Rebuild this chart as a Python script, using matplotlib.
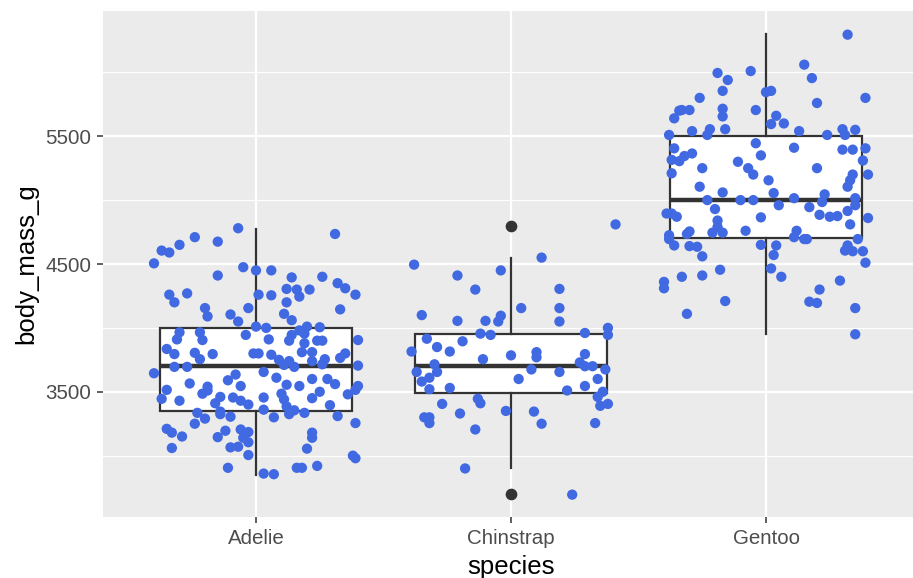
import matplotlib
matplotlib.use("Agg")
import matplotlib.pyplot as plt

# species on the x axis
species = ["Adelie", "Chinstrap", "Gentoo"]

# boxplot summary per species (g)
box_q1 = [3350, 3487.5, 4700]
box_med = [3700, 3700, 5000]
box_q3 = [4000, 3950, 5500]
box_lo = [2850, 2900, 3950]
box_hi = [4775, 4550, 6300]
box_fliers = [[], [4800, 2700], []]

# jittered points: horizontal offset (category units) and body mass (g)
adelie_off = [
    -0.07, 0.31, -0.24, -0.30, -0.15, -0.37, -0.34, -0.40, -0.05, 0.00, 0.06, -0.15, 0.14, 0.26,
    0.32, 0.35, 0.12, 0.16, 0.21, 0.17, -0.34, -0.27, -0.32, 0.01, 0.06, 0.39, 0.12, -0.20, -0.19,
    -0.03, -0.10, -0.07, 0.33, 0.11, 0.14, 0.00, 0.04, 0.17, 0.20, 0.25, -0.30, -0.31, -0.22, -0.21,
    -0.04, 0.05, 0.14, 0.13, 0.19, 0.19, 0.24, 0.26, 0.40,
    -0.35, -0.32, -0.24, -0.22, -0.17, -0.01, 0.01, 0.06, 0.09, 0.11, 0.13, 0.15, 0.18, 0.22, 0.22,
    0.26, 0.27, 0.33, 0.35, 0.40, -0.40, -0.32, -0.27, -0.35, -0.37, -0.30, -0.26, -0.21, -0.19,
    -0.19, -0.14, -0.16, -0.11, -0.08, -0.06, -0.09, -0.06, -0.03, 0.03, 0.03, 0.03, 0.08, 0.12,
    0.10, 0.11, 0.12, 0.15, 0.13, 0.17, 0.22, 0.28, 0.31, 0.25, 0.22, 0.29, 0.36, 0.39, 0.40, 0.19,
    0.32, 0.39, -0.23, -0.20, -0.24, -0.14, -0.14, -0.10, 0.07, -0.35, -0.33, -0.29, -0.33, -0.15,
    -0.12, -0.06, -0.03, -0.03, -0.05, -0.10, -0.07, -0.03, 0.22, 0.22, 0.20, 0.38, 0.39, -0.11,
    0.03, 0.07, 0.16, 0.18, 0.24,
]
adelie_mass = [
    4780, 4735, 4710, 4650, 4675, 4605, 4590, 4505, 4475, 4450, 4450, 4410, 4395, 4400,
    4350, 4310, 4305, 4300, 4300, 4245, 4260, 4270, 4200, 4260, 4255, 4260, 4200, 4155, 4090,
    4155, 4105, 4050, 4145, 4110, 4060, 4010, 4000, 3980, 4010, 4005, 3965, 3910, 3965, 3905,
    3945, 3910, 3945, 3900, 3955, 3880, 3900, 3900, 3905,
    3835, 3795, 3805, 3755, 3795, 3800, 3800, 3790, 3750, 3710, 3740, 3695, 3810, 3810, 3740,
    3715, 3755, 3765, 3800, 3705, 3645, 3695, 3695, 3515, 3445, 3430, 3565, 3485, 3540,
    3510, 3460, 3410, 3590, 3635, 3545, 3455, 3430, 3400, 3655, 3455, 3360, 3610, 3555,
    3485, 3440, 3385, 3355, 3325, 3545, 3600, 3600, 3560, 3500, 3450, 3395, 3480, 3515, 3545, 3335,
    3310, 3255, 3335, 3290, 3250, 3345, 3325, 3305, 3300, 3210, 3180, 3150, 3060, 3145,
    3195, 3205, 3185, 3105, 3140, 3065, 3070, 3005, 3180, 3140, 3055, 3000, 2980, 2905,
    2860, 2855, 2905, 2905, 2920,
]

chinstrap_off = [
    0.41, -0.38, 0.12, -0.21, -0.04, -0.14, 0.19, -0.35, -0.21, -0.10, -0.04, -0.05, 0.04, 0.19,
    0.19, -0.12, -0.08, -0.33, -0.19, 0.29, 0.38, 0.38,
    -0.39, -0.29, -0.24, -0.11, 0.00, 0.10, 0.10, 0.29, 0.27, 0.29, 0.32, 0.37, 0.34, -0.30,
    -0.29, -0.37, -0.35, -0.32, -0.32, -0.24, 0.03, 0.08, 0.19, 0.29, 0.22, 0.36, 0.34, 0.35,
    0.38, -0.13, -0.12, -0.27, -0.20, -0.02, 0.09, 0.12, -0.34, -0.32, -0.32, -0.14, 0.33,
    -0.18, 0.24,
]
chinstrap_mass = [
    4810, 4495, 4550, 4410, 4450, 4300, 4305, 4100, 4055, 4055, 4095, 4050, 4155, 4155,
    4050, 3955, 3945, 3915, 3895, 3960, 4000, 3945,
    3815, 3850, 3815, 3755, 3785, 3810, 3770, 3795, 3730, 3700, 3700, 3675, 3600, 3715,
    3655, 3655, 3580, 3610, 3520, 3530, 3600, 3675, 3655, 3545, 3510, 3500, 3460, 3390,
    3405, 3445, 3410, 3405, 3330, 3350, 3345, 3250, 3300, 3300, 3255, 3205, 3255,
    2900, 2695,
]

gentoo_off = [
    0.32, -0.19, -0.15, -0.06, 0.15, 0.18, -0.17, -0.26, 0.00, 0.02, 0.20, 0.39, -0.34, -0.33,
    -0.30, -0.36, -0.17, -0.17, -0.04, 0.04, 0.02, 0.07, -0.38, -0.29, -0.22, -0.23, -0.16, 0.13,
    0.24, 0.30, 0.31, 0.35,
    -0.04, 0.11, -0.36, -0.37, -0.34, -0.32, -0.29, -0.37, -0.25, -0.11, -0.02, -0.07, -0.05,
    0.01, 0.20, 0.30, 0.34, 0.39, 0.38, 0.40, 0.34, 0.33, 0.32, -0.26, -0.17, -0.23, -0.10,
    -0.05, 0.03, 0.11, 0.05, 0.23, 0.22, 0.17, 0.35, 0.35, 0.32, -0.20, -0.39, -0.37, -0.35,
    -0.02, 0.21, 0.25, 0.28, 0.40, 0.33, -0.19, -0.19, -0.21, -0.17, -0.08, -0.31, -0.30, -0.38,
    -0.38, -0.36, -0.30, -0.27, -0.25, -0.02, 0.04, 0.03, 0.12, 0.11, 0.15, 0.16, 0.36, 0.32,
    0.31, 0.34, 0.38,
    0.39, 0.02, 0.06, -0.18, -0.25, -0.33, -0.40, -0.40, 0.29, 0.21, 0.17, 0.20, -0.16, -0.31,
    0.35, 0.35,
]
gentoo_mass = [
    6295, 5995, 5940, 6010, 6060, 5955, 5855, 5800, 5845, 5855, 5760, 5800, 5700, 5705,
    5705, 5640, 5715, 5655, 5705, 5660, 5595, 5600, 5510, 5540, 5555, 5510, 5555, 5540,
    5510, 5555, 5510, 5550,
    5445, 5410, 5405, 5315, 5305, 5345, 5365, 5210, 5250, 5300, 5350, 5250, 5200,
    5155, 5250, 5395, 5395, 5405, 5310, 5200, 5200, 5155, 5105, 5105, 5060, 5000, 5000,
    5000, 5055, 5015, 4960, 5045, 4985, 4945, 5015, 4960, 4915, 4930, 4895, 4895, 4870,
    4865, 4885, 4870, 4875, 4860, 4810, 4840, 4790, 4745, 4745, 4760, 4735, 4755, 4725,
    4695, 4645, 4640, 4635, 4560, 4650, 4645, 4570, 4760, 4710, 4695, 4695, 4695, 4645,
    4605, 4600, 4600,
    4510, 4465, 4400, 4455, 4410, 4400, 4360, 4310, 4370, 4300, 4205, 4195, 4210, 4110,
    4155, 3950,
]

point_offsets = [adelie_off, chinstrap_off, gentoo_off]
point_masses = [adelie_mass, chinstrap_mass, gentoo_mass]

plt.rcParams["font.family"] = ["Liberation Sans", "DejaVu Sans"]

W, H = 913, 578
fig = plt.figure(figsize=(W / 100, H / 100), dpi=100)
# panel runs a little past the right edge, as in the reference
ax = fig.add_axes([103 / W, (H - 517) / H, (919 - 103) / W, (517 - 11) / H])
ax.set_facecolor("#EBEBEB")
for s in ax.spines.values():
    s.set_visible(False)

positions = list(range(1, len(species) + 1))

stats = []
for i, name in enumerate(species):
    stats.append({
        "label": name,
        "q1": box_q1[i], "med": box_med[i], "q3": box_q3[i],
        "whislo": box_lo[i], "whishi": box_hi[i], "fliers": box_fliers[i],
    })

ax.bxp(stats, positions=positions, widths=0.75, showcaps=False, patch_artist=True,
       boxprops=dict(facecolor="white", edgecolor="#333333", linewidth=1.6),
       whiskerprops=dict(color="#333333", linewidth=1.6),
       medianprops=dict(color="#333333", linewidth=3.2, solid_capstyle="butt"),
       flierprops=dict(marker="o", markerfacecolor="#333333", markeredgecolor="#333333",
                       markersize=7.4),
       zorder=2)

for pos, offs, mass in zip(positions, point_offsets, point_masses):
    xs = [pos + o for o in offs]
    ax.scatter(xs, mass, s=55, color="#4169E1", edgecolors="none", zorder=3)

ax.set_xlim(0.4, 3.6)
ax.set_ylim(2520, 6480)
ax.set_xticks(positions)
ax.set_xticklabels(species)
ax.set_yticks([3500, 4500, 5500])
ax.set_yticks([3000, 4000, 5000, 6000], minor=True)

ax.grid(which="major", color="white", linewidth=1.6, zorder=0)
ax.grid(which="minor", axis="y", color="white", linewidth=0.8, zorder=0)
ax.set_axisbelow(True)

ax.tick_params(which="major", length=4, width=1.1, color="#333333",
               labelcolor="#4D4D4D", labelsize=14.8, pad=4.5)
ax.tick_params(which="minor", length=0)

ax.set_xlabel("species", fontsize=18.5, color="black", labelpad=5)
ax.set_ylabel("body_mass_g", fontsize=18.5, color="black", labelpad=5)

fig.savefig("out.png", dpi=100)
